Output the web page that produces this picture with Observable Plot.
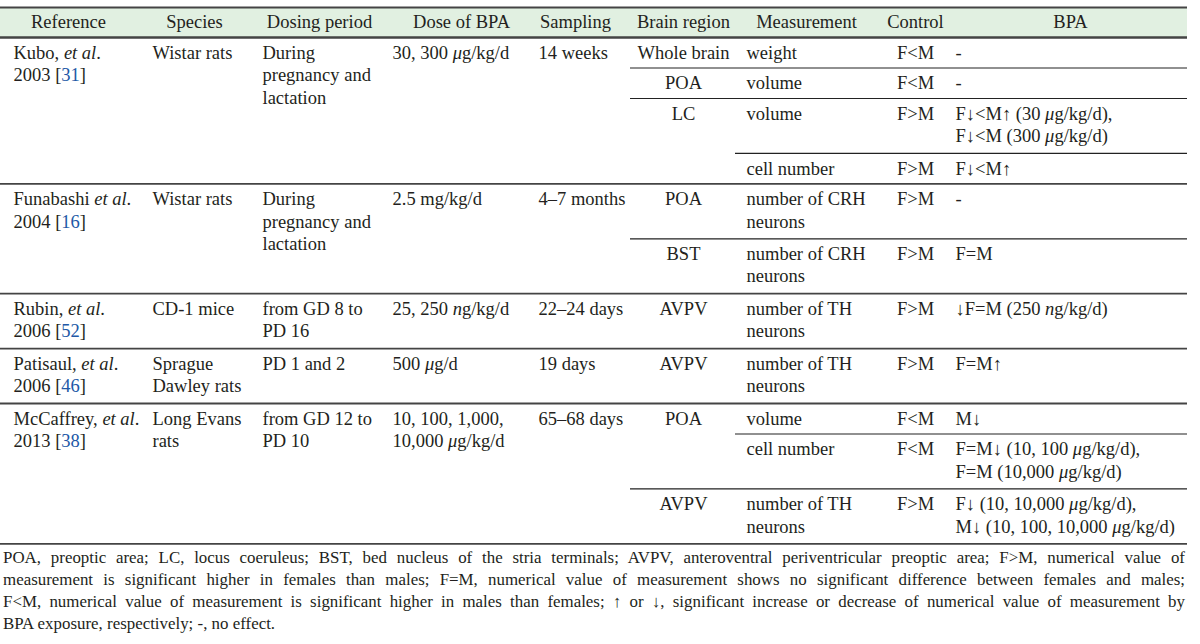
<!DOCTYPE html>
<html>
<head>
<meta charset="utf-8">
<script src="https://cdn.jsdelivr.net/npm/d3@7"></script>
<script src="https://cdn.jsdelivr.net/npm/@observablehq/plot@0.6"></script>
<style>
  html, body { margin: 0; padding: 0; background: #fff; }
  #chart svg { display: block; }
  #note { width: 1182px; margin-left: 3px; font-family: "Liberation Serif", "Times New Roman", serif; font-size: 16.9px; line-height: 22px; color: #231f20; }
  #note .j { text-align: justify; text-align-last: justify; white-space: nowrap; }
  #note .l { text-align: left; }
</style>
</head>
<body>
<div id="chart"></div>
<div id="note"></div>
<script>
// ---------------- data ----------------
const headers = ["Reference", "Species", "Dosing period", "Dose of BPA", "Sampling", "Brain region", "Measurement", "Control", "BPA"];

// one entry per study (markup: *italic*, {blue citation})
const references = ["Kubo, *et al*.\n2003 [{31}]", "Funabashi *et al*.\n2004 [{16}]", "Rubin, *et al*.\n2006 [{52}]", "Patisaul, *et al*.\n2006 [{46}]", "McCaffrey, *et al*.\n2013 [{38}]"];
const species = ["Wistar rats", "Wistar rats", "CD-1 mice", "Sprague\nDawley rats", "Long Evans\nrats"];
const dosingPeriods = ["During\npregnancy and\nlactation", "During\npregnancy and\nlactation", "from GD 8 to\nPD 16", "PD 1 and 2", "from GD 12 to\nPD 10"];
const doses = ["30, 300 *μ*g/kg/d", "2.5 mg/kg/d", "25, 250 *n*g/kg/d", "500 *μ*g/d", "10, 100, 1,000,\n10,000 *μ*g/kg/d"];
const samplings = ["14 weeks", "4–7 months", "22–24 days", "19 days", "65–68 days"];

// one entry per measurement row
const measStudy = [0, 0, 0, 0, 1, 1, 2, 3, 4, 4, 4];
const measRegion = ["Whole brain", "POA", "LC", "LC", "POA", "BST", "AVPV", "AVPV", "POA", "POA", "AVPV"];
const measurements = ["weight", "volume", "volume", "cell number", "number of CRH\nneurons", "number of CRH\nneurons", "number of TH\nneurons", "number of TH\nneurons", "volume", "cell number", "number of TH\nneurons"];
const controls = ["F<M", "F<M", "F>M", "F>M", "F>M", "F>M", "F>M", "F>M", "F<M", "F<M", "F>M"];
const bpaEffects = ["-", "-", "F↓<M↑ (30 *μ*g/kg/d),\nF↓<M (300 *μ*g/kg/d)", "F↓<M↑", "-", "F=M", "↓F=M (250 *n*g/kg/d)", "F=M↑", "M↓", "F=M↓ (10, 100 *μ*g/kg/d),\nF=M (10,000 *μ*g/kg/d)", "F↓ (10, 10,000 *μ*g/kg/d),\nM↓ (10, 100, 10,000 *μ*g/kg/d)"];

const footnoteLines = [
  "POA, preoptic area; LC, locus coeruleus; BST, bed nucleus of the stria terminals; AVPV, anteroventral periventricular preoptic area; F>M, numerical value of",
  "measurement is significant higher in females than males; F=M, numerical value of measurement shows no significant difference between females and males;",
  "F<M, numerical value of measurement is significant higher in males than females; ↑ or ↓, significant increase or decrease of numerical value of measurement by",
  "BPA exposure, respectively; -, no effect."
];

// ---------------- layout ----------------
const W = 1200, H = 547;
const TABLE_LEFT = 0, TABLE_RIGHT = 1187;
const HEAD_TOP = 7, HEAD_BOTTOM = 37;
const ROW_LINE = 24.4, ROW_PAD = 6.1, TEXT_LINE = 22.5, TEXT_OFF = 5.2;
const REGION_X = 630, MEAS_X = 735;
const FONT = 18.5;
const colX = {reference: 13, species: 152, dosing: 262, dose: 392, sampling: 538, region: 683, measurement: 746, control: 915, bpa: 955};
const headerCenters = [68, 194, 319, 461, 575, 683, 806, 915, 1070];
const TEXT = "#231f20", BLUE = "#2158a6";

const nLines = s => s.split("\n").length;

// compute row tops
const rows = [];
let y = HEAD_BOTTOM;
measurements.forEach((m, i) => {
  const lines = Math.max(nLines(m), nLines(bpaEffects[i]));
  const h = ROW_PAD + ROW_LINE * lines;
  rows.push({i, top: y, bottom: y + h, study: measStudy[i], region: measRegion[i]});
  y += h;
});
const tableBottom = y;

const cells = [];
const rules = [];
rows.forEach((r, k) => {
  const prev = rows[k - 1];
  const newStudy = !prev || prev.study !== r.study;
  const newRegion = newStudy || prev.region !== r.region;
  if (newStudy) {
    const s = r.study;
    cells.push({x: colX.reference, y: r.top + TEXT_OFF, text: references[s], anchor: "start"});
    cells.push({x: colX.species, y: r.top + TEXT_OFF, text: species[s], anchor: "start"});
    cells.push({x: colX.dosing, y: r.top + TEXT_OFF, text: dosingPeriods[s], anchor: "start"});
    cells.push({x: colX.dose, y: r.top + TEXT_OFF, text: doses[s], anchor: "start"});
    cells.push({x: colX.sampling, y: r.top + TEXT_OFF, text: samplings[s], anchor: "start"});
    rules.push({y: r.top, x1: TABLE_LEFT, x2: TABLE_RIGHT, kind: "full"});
  } else if (newRegion) {
    rules.push({y: r.top, x1: REGION_X, x2: TABLE_RIGHT, kind: "part"});
  } else {
    rules.push({y: r.top, x1: MEAS_X, x2: TABLE_RIGHT, kind: "part"});
  }
  if (newRegion) cells.push({x: colX.region, y: r.top + TEXT_OFF, text: r.region, anchor: "middle"});
  cells.push({x: colX.measurement, y: r.top + TEXT_OFF, text: measurements[r.i], anchor: "start"});
  cells.push({x: colX.control, y: r.top + TEXT_OFF, text: controls[r.i], anchor: "middle"});
  cells.push({x: colX.bpa, y: r.top + TEXT_OFF, text: bpaEffects[r.i], anchor: "start"});
});
rules.push({y: tableBottom, x1: TABLE_LEFT, x2: TABLE_RIGHT, kind: "full"});
rules.push({y: HEAD_TOP, x1: TABLE_LEFT, x2: TABLE_RIGHT, kind: "full"});

const headerCells = headers.map((h, i) => ({x: headerCenters[i], y: HEAD_TOP + 4.5, text: h}));

const textOpts = {fontSize: FONT, lineHeight: TEXT_LINE / FONT, lineAnchor: "top", fill: TEXT};

const svg = Plot.plot({
  width: W, height: H,
  margin: 0,
  x: {type: "linear", domain: [0, W], range: [0, W], axis: null},
  y: {type: "linear", domain: [0, H], range: [0, H], axis: null},
  style: {fontFamily: "'Liberation Serif', 'Times New Roman', serif", fontSize: FONT + "px", color: TEXT, background: "#fff"},
  marks: [
    Plot.rect([{x1: TABLE_LEFT, x2: TABLE_RIGHT, y1: HEAD_TOP, y2: HEAD_BOTTOM}], {x1: "x1", x2: "x2", y1: "y1", y2: "y2", fill: "#e1f0e1"}),
    Plot.ruleY([{y: HEAD_BOTTOM}], {y: "y", x1: TABLE_LEFT, x2: TABLE_RIGHT, stroke: "#444", strokeWidth: 1.8}),
    Plot.ruleY(rules.filter(d => d.kind === "full"), {y: "y", x1: "x1", x2: "x2", stroke: "#444", strokeWidth: 1.8}),
    Plot.ruleY(rules.filter(d => d.kind === "part"), {y: "y", x1: "x1", x2: "x2", stroke: "#222", strokeWidth: 1.2}),
    Plot.text(headerCells, {x: "x", y: "y", text: "text", textAnchor: "middle", ...textOpts}),
    Plot.text(cells.filter(d => d.anchor === "start"), {x: "x", y: "y", text: "text", textAnchor: "start", ...textOpts}),
    Plot.text(cells.filter(d => d.anchor === "middle"), {x: "x", y: "y", text: "text", textAnchor: "middle", ...textOpts})
  ]
});

// apply inline markup (*italic*, {blue})
function applyMarkup(el) {
  const s = el.textContent;
  if (!/[*{]/.test(s)) return;
  while (el.firstChild) el.removeChild(el.firstChild);
  const re = /(\*[^*]+\*|\{[^}]+\})/g;
  let last = 0, m;
  while ((m = re.exec(s))) {
    if (m.index > last) el.appendChild(document.createTextNode(s.slice(last, m.index)));
    const t = document.createElementNS("http://www.w3.org/2000/svg", "tspan");
    if (m[0][0] === "*") t.setAttribute("font-style", "italic");
    else t.setAttribute("fill", BLUE);
    t.textContent = m[0].slice(1, -1);
    el.appendChild(t);
    last = m.index + m[0].length;
  }
  if (last < s.length) el.appendChild(document.createTextNode(s.slice(last)));
}
Array.from(svg.querySelectorAll("text, tspan")).filter(el => el.children.length === 0).forEach(applyMarkup);

document.getElementById("chart").appendChild(svg);

const note = document.getElementById("note");
footnoteLines.forEach((line, i) => {
  const d = document.createElement("div");
  d.className = i < footnoteLines.length - 1 ? "j" : "l";
  d.textContent = line;
  note.appendChild(d);
});
</script>
</body>
</html>
